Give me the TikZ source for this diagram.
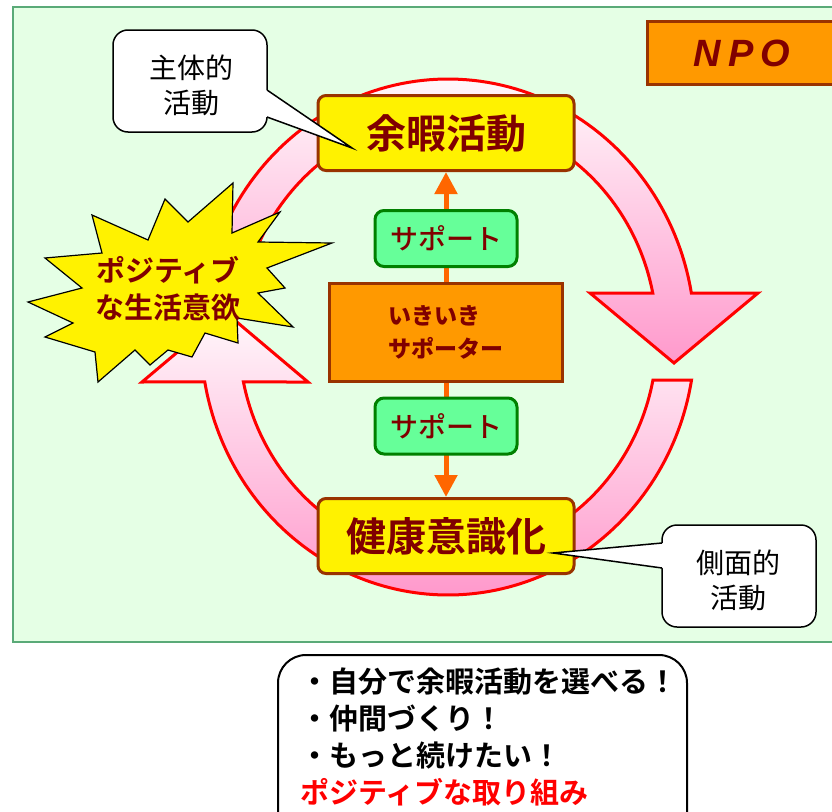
\documentclass[tikz,border=0pt]{standalone}
\usepackage{fontspec}
\setmainfont{Liberation Sans}
\newfontfamily\jp{Noto Sans CJK JP}[BoldFont={Noto Sans CJK JP Bold}]
\newfontfamily\jpblack{Noto Sans CJK JP Black}
\newfontfamily\jpmed{Noto Sans CJK JP Medium}
\usetikzlibrary{arrows.meta}
\definecolor{panelfill}{RGB}{229,255,229}
\definecolor{paneldraw}{RGB}{90,170,120}
\definecolor{boxbrown}{RGB}{153,51,0}
\definecolor{txtred}{RGB}{128,0,0}
\definecolor{supfill}{RGB}{102,255,153}
\definecolor{supdraw}{RGB}{0,128,0}
\definecolor{ikifill}{RGB}{255,153,0}
\definecolor{lineorange}{RGB}{255,102,0}
\definecolor{ringpink}{RGB}{255,153,204}
\definecolor{ringwhite}{RGB}{255,248,251}
\pgfdeclarelayer{back}
\pgfdeclarelayer{conn}
\pgfsetlayers{back,conn,main}
\begin{document}
\begin{tikzpicture}[x=1pt,y=-1pt,
  panel/.style={draw=paneldraw, fill=panelfill, line width=1.5pt},
  ringarrow/.style={draw=red, line width=3pt, top color=ringwhite, bottom color=ringpink},
  yellowbox/.style={draw=boxbrown, fill=yellow, line width=3pt, rounded corners=8pt,
    minimum width=256pt, minimum height=75pt, inner sep=0pt, text=txtred,
    font=\jp\bfseries\fontsize{40}{48}\selectfont},
  supbox/.style={draw=supdraw, fill=supfill, line width=3pt, rounded corners=9pt,
    minimum width=142pt, minimum height=56pt, inner sep=0pt, text=txtred,
    font=\jpmed\fontsize{28}{34}\selectfont},
  ikibox/.style={draw=boxbrown, fill=ikifill, line width=3pt,
    minimum width=233pt, minimum height=98pt, inner sep=0pt, text=txtred,
    align=left, font=\jpblack\fontsize{23}{33}\selectfont},
  oline/.style={draw=lineorange, line width=5pt, -{Triangle[width=22pt,length=22pt]}},
  callout/.style={draw=black, line width=1.5pt, fill=white},
  callfill/.style={fill=white},
  calltxt/.style={align=center, inner sep=0pt, font=\jp\fontsize{28}{35}\selectfont},
  burst/.style={draw=black, line width=1.2pt, fill=yellow, line join=miter},
  bursttxt/.style={align=center, inner sep=0pt, text=txtred,
    font=\jp\bfseries\fontsize{29}{37}\selectfont},
  npobox/.style={draw=boxbrown, fill=ikifill, line width=3pt},
  npotxt/.style={text=txtred, inner sep=0pt, font=\bfseries\itshape\fontsize{38}{44}\selectfont},
  meritbox/.style={draw=black, line width=2pt, fill=white, rounded corners=28pt},
  merittxt/.style={align=left, inner sep=0pt, font=\jp\bfseries\fontsize{29}{37}\selectfont}
]
\useasboundingbox (0,0) rectangle (832,811);

\begin{pgfonlayer}{back}
  \path[panel] (13,7) rectangle (845,642);
  % upper ring arrow (left -> top -> right, pointing down)
  \path[ringarrow]
    plot[domain=160:9.8, samples=90, variable=\t] ({448+247*cos(\t)},{337-258*sin(\t)})
    -- (758,293) -- (674,363) -- (590,293)
    -- plot[domain=11.5:156, samples=90, variable=\t] ({448+209*cos(\t)},{337-220*sin(\t)})
    -- cycle;
  % lower ring arrow (right -> bottom -> left, pointing up)
  \path[ringarrow]
    plot[domain=-9.6:-170, samples=110, variable=\t] ({448+247*cos(\t)},{337-258*sin(\t)})
    -- (142,382) -- (225,312) -- (308,382)
    -- plot[domain=-168.2:-11.3, samples=110, variable=\t] ({448+209*cos(\t)},{337-220*sin(\t)})
    -- cycle;
\end{pgfonlayer}

% boxes
\node[yellowbox] (yoka) at (446,133) {余暇活動};
\node[yellowbox] (kenko) at (446,536) {健康意識化};
\node[supbox] (sup1) at (446,238.5) {サポート};
\node[supbox] (sup2) at (446,426) {サポート};
\node[ikibox] (iki) at (446,332) {いきいき\\サポーター};

\begin{pgfonlayer}{conn}
  \draw[oline] (iki.north) -- (yoka.south);
  \draw[oline] (iki.south) -- (kenko.north);
\end{pgfonlayer}

% callout 1
\draw[callout, rounded corners=15pt] (113,30) rectangle (267,132);
\fill[callfill] (262,90) -- (267,90) -- (352,148) -- (267,117) -- (262,117) -- cycle;
\draw[line width=1.5pt, line join=miter] (267,90) -- (352,148) -- (267,117);
\node[calltxt] (call1) at (191,85) {主体的\\活動};

% callout 2
\draw[callout, rounded corners=15pt] (662,525) rectangle (816,627);
\fill[callfill] (667,543) -- (662,543) -- (553,553) -- (662,568) -- (667,568) -- cycle;
\draw[line width=1.5pt, line join=miter] (662,543) -- (553,553) -- (662,568);
\node[calltxt] (call2) at (738,580) {側面的\\活動};

% starburst
\draw[burst] (233,183) -- (232,233) -- (280,212) -- (258,242) -- (332,243) -- (267,268)
  -- (285,288) -- (258,293) -- (293,327) -- (237,318) -- (238,343) -- (205,333)
  -- (192,357) -- (168,350) -- (150,365) -- (135,350) -- (98,382) -- (95,352)
  -- (45,337) -- (73,323) -- (28,302) -- (82,288) -- (45,258) -- (102,253)
  -- (92,215) -- (148,240) -- (165,199) -- (188,222) -- cycle;
\node[bursttxt] (burstlbl) at (168,289) {ポジティブ\\な生活意欲};

% NPO
\path[npobox] (647,21) rectangle (845,84);
\node[npotxt] (npo) at (742,53) {N\hspace{7pt}P\hspace{7pt}O};

% bottom box
\path[meritbox] (278,655) rectangle (687,850);
\node[merittxt, anchor=west] (merit) at (300,737)
  {・自分で余暇活動を選べる！\\・仲間づくり！\\・もっと続けたい！\\\textcolor{red}{ポジティブな取り組み}};
\end{tikzpicture}
\end{document}
